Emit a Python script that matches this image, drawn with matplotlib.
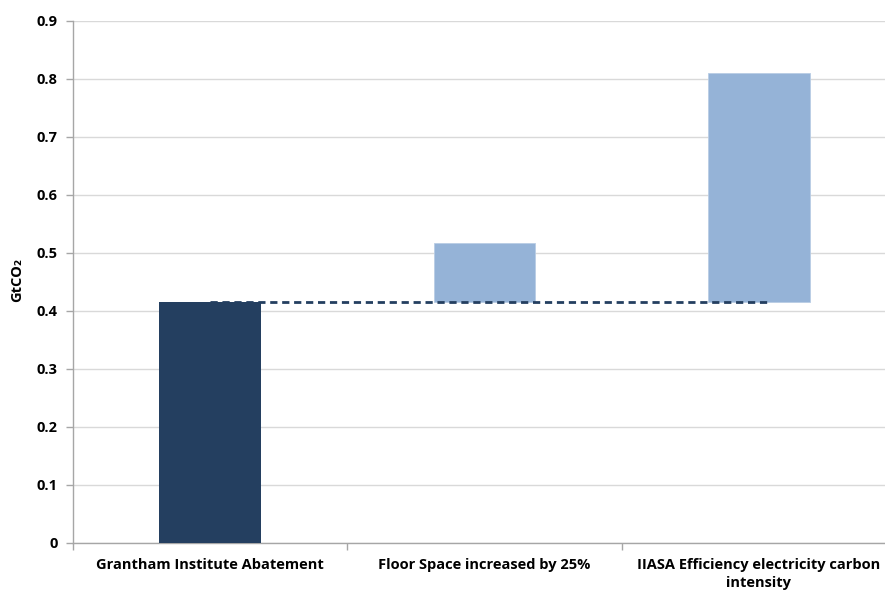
import matplotlib.pyplot as plt

# Abatement estimates (GtCO2)
categories = ['Grantham Institute Abatement',
              'Floor Space increased by 25%',
              'IIASA Efficiency electricity carbon\nintensity']
totals = [0.415, 0.517, 0.81]
baseline = totals[0]

plt.rcParams['font.family'] = ['Open Sans', 'DejaVu Sans']
plt.rcParams['font.weight'] = 'bold'

fig = plt.figure(figsize=(8.85, 5.94), dpi=100)
ax = fig.add_axes([0.0825, 0.0859, 0.93, 0.8788])

x = list(range(len(categories)))
bar_w = 0.37

# first bar from zero, the others float on top of the baseline
ax.bar(x[0], totals[0], width=bar_w, color='#243F60', zorder=3)
ax.bar(x[1:], [t - baseline for t in totals[1:]], bottom=baseline,
       width=bar_w, color='#95B3D7', edgecolor='#B9CDE5', linewidth=0.6, zorder=3)

# dashed baseline across the chart
ax.plot([x[0], x[-1] + 0.04], [baseline, baseline], color='#243F60',
        linewidth=2, dashes=(2.6, 1.7), zorder=4)

ax.set_xlim(-0.5, len(categories) - 0.5)
ax.set_ylim(0, 0.9)
ax.set_yticks([i / 10 for i in range(10)])
ax.set_yticklabels(['0'] + [f'{i / 10:.1f}' for i in range(1, 10)])
ax.yaxis.grid(True, color='#D9D9D9', linewidth=1, zorder=0)

ax.set_xticks(x)
ax.set_xticklabels(categories, fontsize=10.5, fontweight='bold', linespacing=1.3)
ax.set_xticks([i + 0.5 for i in range(-1, len(categories))], minor=True)
ax.tick_params(axis='x', which='major', length=0, pad=11)
ax.tick_params(axis='x', which='minor', length=5, color='#A6A6A6', width=1)
ax.tick_params(axis='y', length=5, color='#A6A6A6', width=1, labelsize=10.5, pad=6)

for side in ['top', 'right']:
    ax.spines[side].set_visible(False)
for side in ['left', 'bottom']:
    ax.spines[side].set_color('#A6A6A6')
    ax.spines[side].set_linewidth(1)

fig.text(0.019, 0.529, 'GtCO₂', rotation=90, ha='center', va='center',
         fontsize=10.5, fontweight='bold')

fig.savefig('out.png', dpi=100)
